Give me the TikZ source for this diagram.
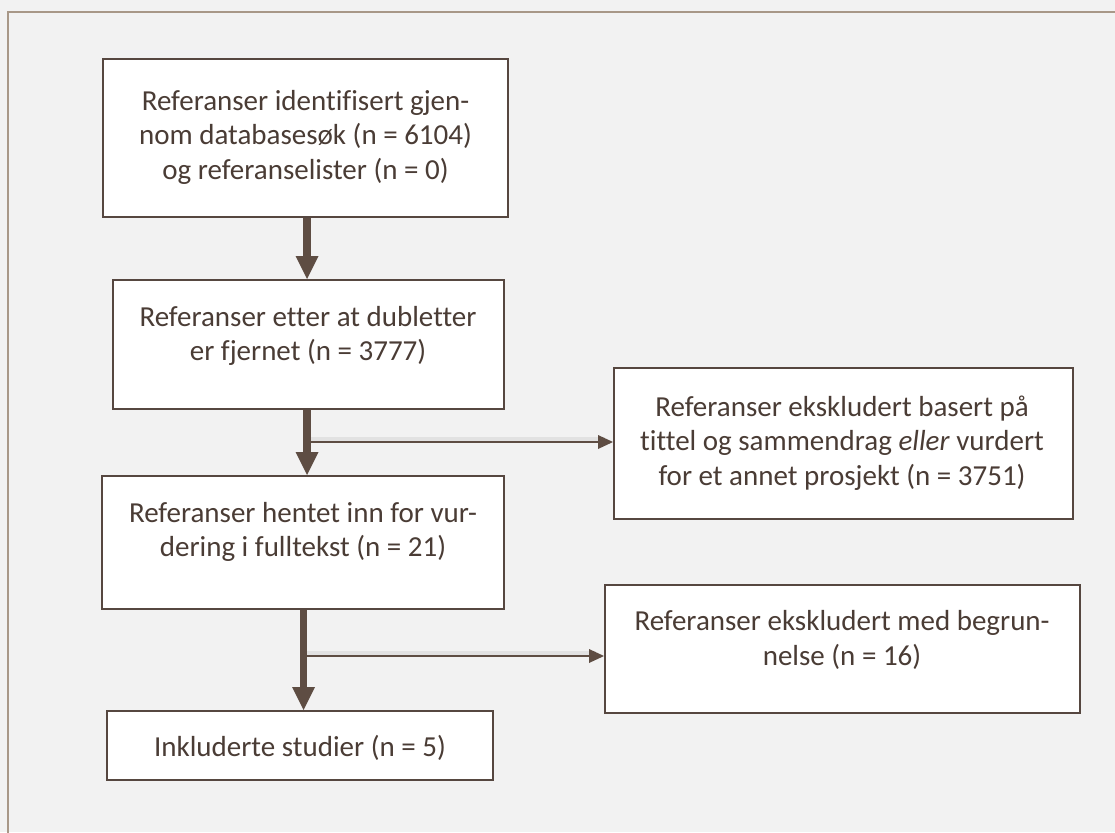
\documentclass[tikz,border=0pt]{standalone}
\usepackage{fontspec}
\setmainfont{Carlito}[Ligatures=CommonOff]
\usetikzlibrary{arrows.meta}
\definecolor{bg}{HTML}{F2F2F2}
\definecolor{framec}{HTML}{A89888}
\definecolor{edgec}{HTML}{564740}
\definecolor{arrc}{HTML}{5E4D43}
\definecolor{txtc}{HTML}{4A3C35}
\definecolor{shadowc}{HTML}{E2E2E2}
\begin{document}
\begin{tikzpicture}[x=1pt,y=-1pt,
  boxnode/.style={draw=edgec,line width=2pt,fill=white,inner sep=0pt},
  txtnode/.style={text=txtc,align=center,inner sep=0pt,font=\fontsize{29pt}{34.5pt}\selectfont},
  mainarrow/.style={draw=arrc,line width=7.5pt,-{Triangle[width=23pt,length=23pt,line width=0pt]}},
  brancharrow/.style={draw=arrc,line width=2.5pt,-{Triangle[width=14pt,length=15pt,line width=0pt]}},
  branchshadow/.style={draw=shadowc,line width=4pt}]
\useasboundingbox (0,0) rectangle (1115,832);
\clip (0,0) rectangle (1115,832);
\fill[bg] (0,0) rectangle (1115,832);
\draw[framec,line width=1.5pt] (8,12) rectangle (1140,860);

% boxes
\node[boxnode,minimum width=405pt,minimum height=158pt] (b1) at (305.5,138) {};
\node[boxnode,minimum width=391pt,minimum height=129pt] (b2) at (308.5,344.5) {};
\node[boxnode,minimum width=459pt,minimum height=151pt] (r1) at (843.5,443.5) {};
\node[boxnode,minimum width=402pt,minimum height=133pt] (b3) at (303,542.5) {};
\node[boxnode,minimum width=475pt,minimum height=128pt] (r2) at (842.5,649) {};
\node[boxnode,minimum width=386pt,minimum height=69pt] (b4) at (300,745.5) {};

% texts
\node[txtnode] (t1) at (305.5,137) {Referanser identifisert gjen-\\nom databasesøk (n = 6104)\\og referanselister (n = 0)};
\node[txtnode] (t2) at (308,336) {Referanser etter at dubletter\\er fjernet (n = 3777)};
\node[txtnode] (tr1) at (842,443) {Referanser ekskludert basert på\\tittel og sammendrag \textit{eller} vurdert\\for et annet prosjekt (n = 3751)};
\node[txtnode] (t3) at (303,532) {Referanser hentet inn for vur-\\dering i fulltekst (n = 21)};
\node[txtnode] (tr2) at (842,640) {Referanser ekskludert med begrun-\\nelse (n = 16)};
\node[txtnode] (t4) at (300,748) {Inkluderte studier (n = 5)};

% branch arrows
\coordinate (j1) at (307,442);
\coordinate (j2) at (303.6,656);
\draw[branchshadow] ([yshift=3.5pt]j1) -- ([yshift=3.5pt,xshift=-8pt]j1 -| r1.west);
\draw[branchshadow] ([yshift=3.5pt]j2) -- ([yshift=3.5pt,xshift=-8pt]j2 -| r2.west);
\draw[brancharrow] (j1) -- (j1 -| r1.west);
\draw[brancharrow] (j2) -- (j2 -| r2.west);

% main arrows
\draw[mainarrow] ([xshift=1.5pt]b1.south) -- ([xshift=1.5pt]b1.south |- b2.north);
\draw[mainarrow] ([xshift=-1.5pt]b2.south) -- ([xshift=-1.5pt]b2.south |- b3.north);
\draw[mainarrow] ([xshift=0.6pt]b3.south) -- ([xshift=0.6pt]b3.south |- b4.north);
\end{tikzpicture}
\end{document}
